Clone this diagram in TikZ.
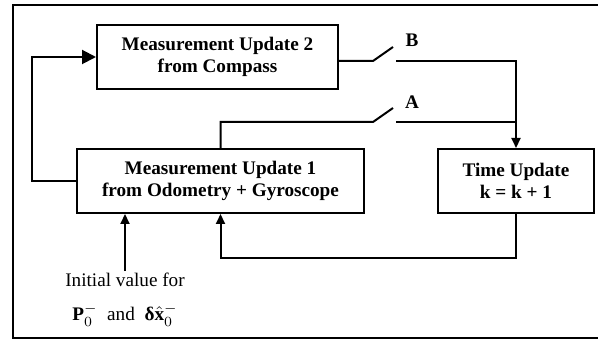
\documentclass[tikz,border=0pt]{standalone}
\usepackage{amsmath}
\usepackage{fontspec}
\setmainfont{Liberation Serif}
\usepackage{tikz}
\usetikzlibrary{arrows.meta, positioning, calc}

\begin{document}
\begin{tikzpicture}[
    x=0.5pt, y=-0.5pt,
    block/.style={draw, line width=1pt, minimum height=32pt, align=center, inner sep=2pt,
        font=\fontsize{9.6}{11}\selectfont\bfseries},
    link/.style={line width=1pt},
    flow/.style={link, -{Triangle[length=5pt, width=4.5pt]}},
    bigflow/.style={link, -{Triangle[length=7pt, width=7pt]}},
    swlabel/.style={font=\fontsize{9.6}{11}\selectfont\bfseries}
]
    \useasboundingbox (0,0) rectangle (598,341);
    \draw[line width=1pt] (13,5) rectangle (601,338);

    % Blocks
    \node[block, minimum width=120.5pt] (mutwo) at (217.5,57) {Measurement Update 2\\from Compass};
    \node[block, minimum width=143.5pt] (muone) at (220.5,181) {Measurement Update 1\\from Odometry + Gyroscope};
    \node[block, minimum width=78pt] (timeup) at (516,181) {Time Update\\k = k + 1};
    \node[anchor=north, inner sep=1pt, align=center, font=\fontsize{9.6}{11}\selectfont] (init) at (125,271)
        {Initial value for\\[6pt] $\mathbf{P}_0^-$ \ and \ $\text{\textbf{δ}}\hat{\mathbf{x}}_0^-$};

    % Switch contacts
    \coordinate (bL) at (373,61);
    \coordinate (bT) at (393,47);
    \coordinate (bR) at (396,61);
    \coordinate (aL) at (373,122);
    \coordinate (aT) at (393,108);
    \coordinate (aR) at (396,122);
    \node[swlabel] (blab) at (412,40) {B};
    \node[swlabel] (alab) at (412,102) {A};

    % Connections
    \draw[link] (mutwo.east |- bL) -- (bL) -- (bT);
    \draw[flow] (bR) -| (timeup.north);
    \draw[link] (muone.north) |- (aL) -- (aT);
    \draw[link] (aR) -- (aR -| timeup.north);
    \draw[bigflow] (muone.west) -- ++(-44,0) |- (mutwo.west);
    \draw[flow] (timeup.south) -- ++(0,44) -| (muone.south);
    \draw[flow] (init.north) -- (init.north |- muone.south);
\end{tikzpicture}
\end{document}
